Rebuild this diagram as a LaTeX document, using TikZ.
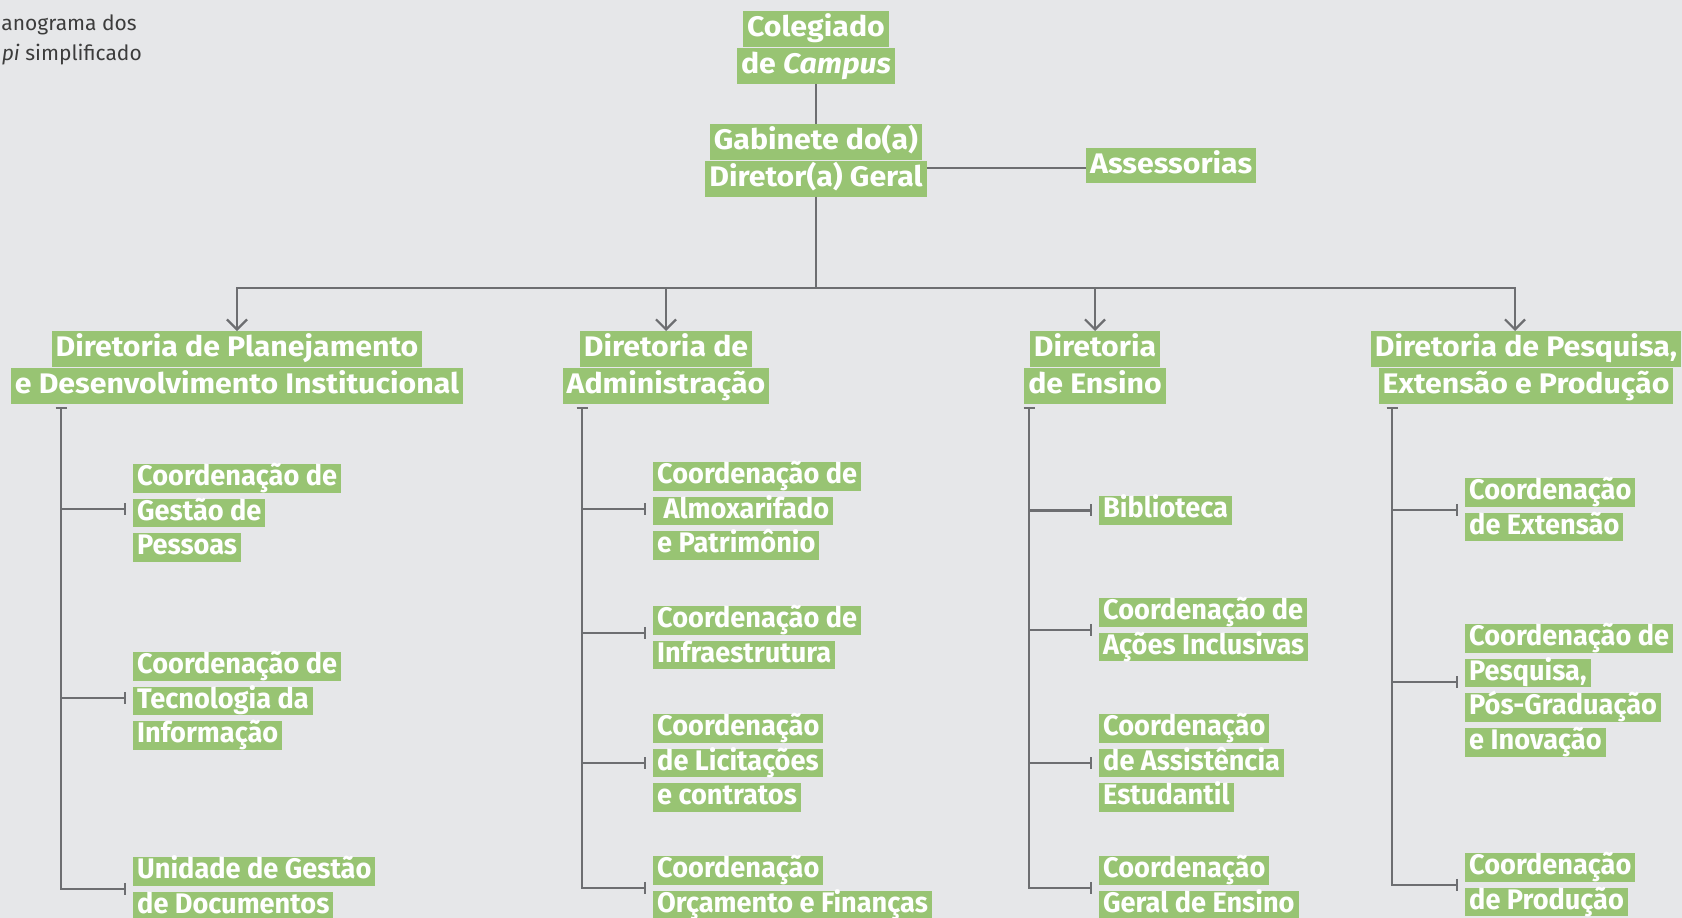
\documentclass[tikz,border=0pt]{standalone}
\usepackage{fontspec}
\setmainfont{Fira Sans}
\newfontfamily\subfont{Fira Sans}[FakeStretch=0.96]
\newfontfamily\dirfont{Fira Sans}[FakeStretch=1.07]
\usetikzlibrary{arrows.meta}
\definecolor{bg}{HTML}{E6E7E9}
\definecolor{gr}{HTML}{98C473}
\definecolor{ln}{HTML}{6D6E71}
\definecolor{tx}{HTML}{3C3C3C}
\setlength\fboxsep{4pt}
\newcommand\hs[1]{\colorbox{gr}{\rule[-3pt]{0pt}{20.5pt}\smash{#1}}}
\newcommand\hd[1]{\colorbox{gr}{\rule[-6pt]{0pt}{27.5pt}\smash{#1}}}
\tikzset{
  sub/.style={anchor=north west, inner sep=0pt, align=left, text=white,
    font=\subfont\fontsize{28.3}{34.6}\selectfont\bfseries},
  top/.style={anchor=north, inner sep=0pt, align=center, text=white,
    font=\dirfont\fontsize{28.3}{37}\selectfont\bfseries},
  dir/.style={anchor=north, inner sep=0pt, align=center, text=white,
    font=\dirfont\fontsize{28.3}{37}\selectfont\bfseries},
  captxt/.style={inner sep=0pt, text=tx, font=\fontsize{21}{30}\selectfont},
  conn/.style={draw=ln, line width=2.2pt},
  arr/.style={conn, -{Straight Barb[length=10pt,width=20pt]}},
  br/.style={conn, -{Bar[width=12pt]}},
  trunk/.style={conn, {Bar[width=11pt]}-{Bar[width=12pt]}}
}
\begin{document}
\begin{tikzpicture}[x=1pt,y=-1pt]
\useasboundingbox (0,0) rectangle (1682,918);
\fill[bg] (0,0) rectangle (1682,918);
\clip (0,0) rectangle (1682,918);

% caption fragment
\node[captxt, anchor=base east] (cap1) at (137,30) {anograma dos};
\node[captxt, anchor=base east] (cap2) at (142,60) {\textit{pi} simplificado};

% top
\node[top] (col) at (816,11) {\hd{Colegiado}\\\hd{de \textit{Campus}}};
\node[top] (gab) at (816,124) {\hd{Gabinete do(a)}\\\hd{Diretor(a) Geral}};
\node[top, anchor=west] (ass) at (1086,165.5) {\hd{Assessorias}};

% directorates
\node[dir] (pdi) at (237,331) {\hd{Diretoria de Planejamento}\\\hd{e Desenvolvimento Institucional}};
\node[dir] (adm) at (666,331) {\hd{Diretoria de}\\\hd{Administração}};
\node[dir] (ens) at (1095,331) {\hd{Diretoria}\\\hd{de Ensino}};
\node[dir] (pep) at (1526,331) {\hd{Diretoria de Pesquisa,}\\\hd{Extensão e Produção}};

% sub items PDI
\node[sub] (gp) at (133,464) {\hs{Coordenação de}\\\hs{Gestão de}\\\hs{Pessoas}};
\node[sub] (ti) at (133,652) {\hs{Coordenação de}\\\hs{Tecnologia da}\\\hs{Informação}};
\node[sub] (doc) at (133,857) {\hs{Unidade de Gestão}\\\hs{de Documentos}};
% ADM
\node[sub] (alm) at (653,462) {\hs{Coordenação de}\\\hs{\ Almoxarifado}\\\hs{e Patrimônio}};
\node[sub] (inf) at (653,606) {\hs{Coordenação de}\\\hs{Infraestrutura}};
\node[sub] (lic) at (653,714) {\hs{Coordenação}\\\hs{de Licitações}\\\hs{e contratos}};
\node[sub] (orc) at (653,856) {\hs{Coordenação}\\\hs{Orçamento e Finanças}};
% ENS
\node[sub] (bib) at (1099,496) {\hs{Biblioteca}};
\node[sub] (aci) at (1099,598) {\hs{Coordenação de}\\\hs{Ações Inclusivas}};
\node[sub] (ast) at (1099,714) {\hs{Coordenação}\\\hs{de Assistência}\\\hs{Estudantil}};
\node[sub] (ger) at (1099,856) {\hs{Coordenação}\\\hs{Geral de Ensino}};
% PEP
\node[sub] (ext) at (1465,478) {\hs{Coordenação}\\\hs{de Extensão}};
\node[sub] (pes) at (1465,624) {\hs{Coordenação de}\\\hs{Pesquisa,}\\\hs{Pós-Graduação}\\\hs{e Inovação}};
\node[sub] (pro) at (1465,853) {\hs{Coordenação}\\\hs{de Produção}};

% top connectors
\draw[conn] (col.south) -- (gab.north);
\draw[conn] ([yshift=-2.5pt]ass.west) -- ([yshift=-2.5pt]ass.west -| gab.east);
\coordinate (bus) at (816,288);
\draw[conn] (gab.south) -- (bus);
\draw[arr] (bus) -| (pdi.north);
\draw[arr] (bus) -| (adm.north);
\draw[arr] (bus) -| (ens.north);
\draw[arr] (bus) -| ([xshift=-11pt]pep.north);

% trunks
\coordinate (pdiT) at (61,407);
\coordinate (admT) at (582,407);
\coordinate (ensT) at (1029,407);
\coordinate (pepT) at (1392,407);

\draw[trunk] (pdiT) |- ([xshift=-7pt]doc.west);
\draw[br] (pdiT |- gp.west) ++(0,-4) coordinate (gpS) -- ([xshift=-7pt,yshift=4pt]gp.west);
\draw[br] (pdiT |- ti.west) ++(0,-3) coordinate (tiS) -- ([xshift=-7pt,yshift=3pt]ti.west);

\draw[trunk] (admT) |- ([xshift=-7pt]orc.west);
\draw[br] (admT |- alm.west) ++(0,-2) coordinate (almS) -- ([xshift=-7pt,yshift=2pt]alm.west);
\draw[br] (admT |- inf.west) ++(0,-5) coordinate (infS) -- ([xshift=-7pt,yshift=5pt]inf.west);
\draw[br] (admT |- lic.west) -- ([xshift=-7pt]lic.west);

\draw[trunk] (ensT) |- ([xshift=-7pt]ger.west);
\draw[br] (ensT |- bib.west) -- ([xshift=-7pt]bib.west);
\draw[br] (ensT |- aci.west) -- ([xshift=-7pt]aci.west);
\draw[br] (ensT |- ast.west) -- ([xshift=-7pt]ast.west);

\draw[trunk] (pepT) |- ([xshift=-7pt]pro.west);
\draw[br] (pepT |- ext.west) -- ([xshift=-7pt]ext.west);
\draw[br] (pepT |- pes.west) ++(0,-8) coordinate (pesS) -- ([xshift=-7pt,yshift=8pt]pes.west);
\end{tikzpicture}
\end{document}
